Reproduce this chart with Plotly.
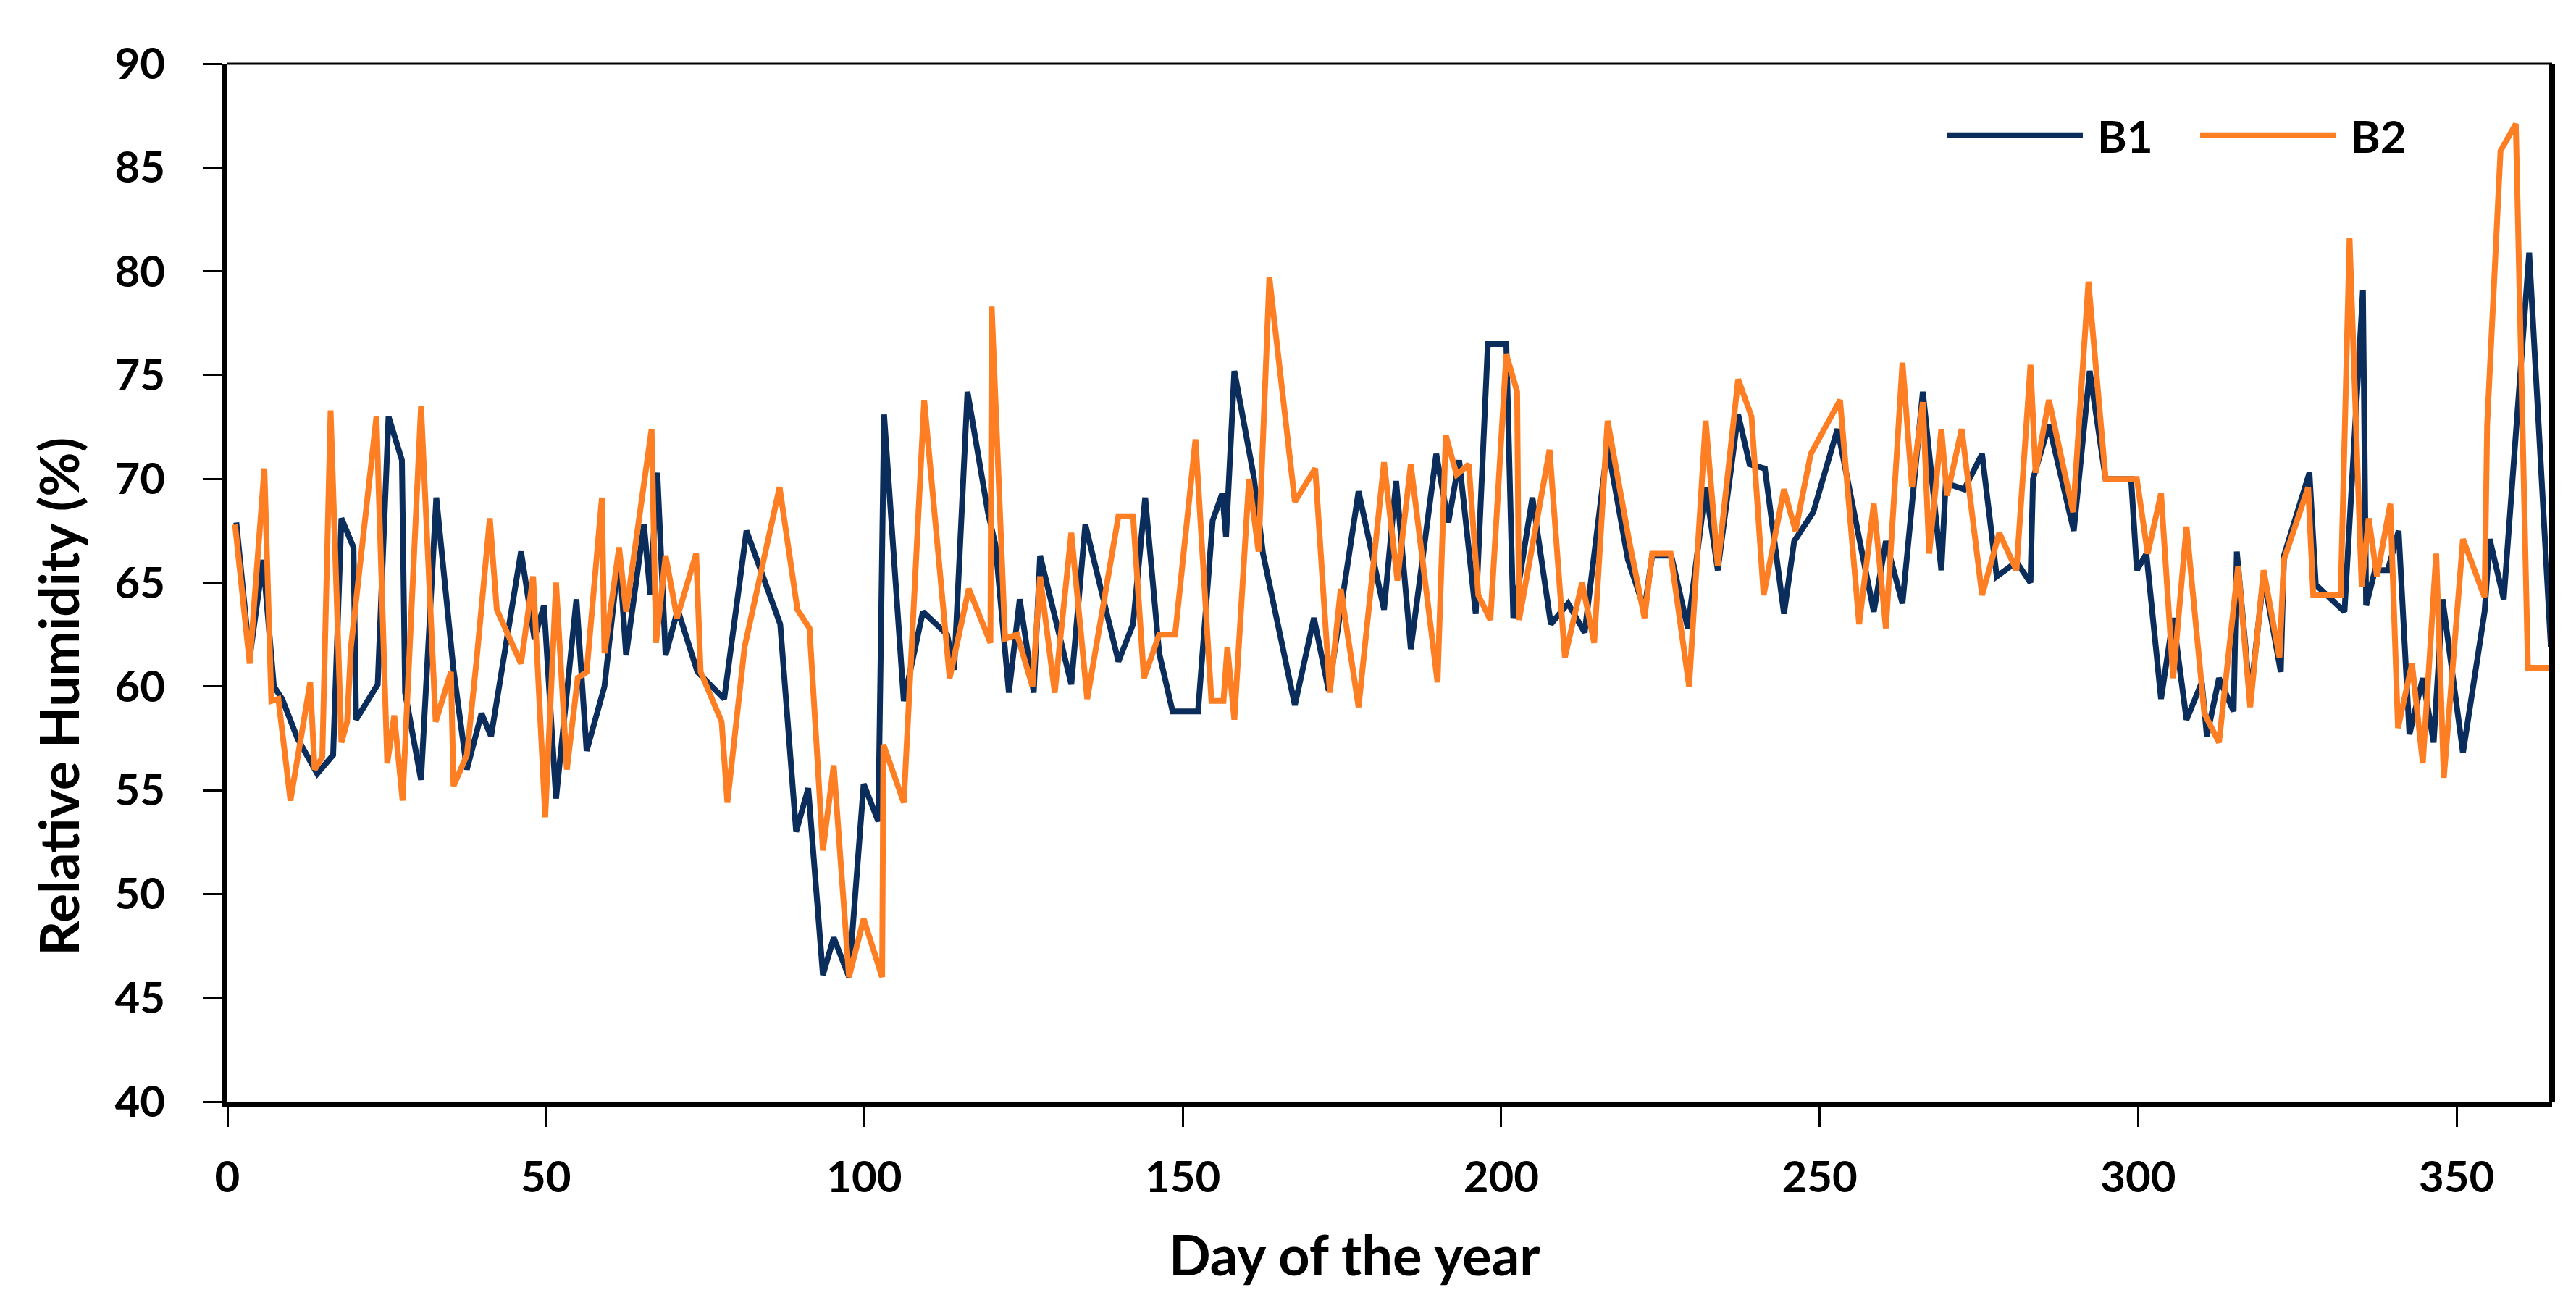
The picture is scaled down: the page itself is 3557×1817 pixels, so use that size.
import plotly.graph_objects as go

# ---------------- data ----------------
b1_day = [1.4, 3.5, 5.6, 7.3, 8.6, 11.0, 14.1, 16.6, 17.9, 19.8, 20.2, 23.6, 25.3, 27.4, 27.9, 30.4,
          32.8, 35.5, 37.6, 39.9, 41.4, 46.1, 48.2, 49.7, 51.6, 54.8, 56.4, 59.2, 61.5, 62.6, 65.4,
          66.4, 67.5, 68.8, 70.7, 73.8, 78.0, 81.5, 86.8, 89.3, 91.2, 93.5, 95.2, 97.6, 99.9, 102.2,
          103.1, 106.2, 109.2, 113.0, 114.1, 116.2, 119.4, 120.6, 122.7, 124.4, 126.6, 127.6, 132.5,
          134.7, 139.9, 142.2, 144.1, 146.3, 148.4, 152.4, 154.7, 156.2, 156.8, 158.1, 161.1, 162.6,
          167.6, 170.6, 172.9, 177.6, 181.6, 183.5, 185.8, 189.8, 191.7, 193.4, 196.0, 197.9, 200.8,
          201.9, 204.9, 207.8, 210.5, 213.1, 216.7, 219.9, 222.5, 223.7, 226.7, 229.3, 232.1, 234.0,
          237.2, 239.0, 241.4, 244.4, 246.0, 249.0, 252.8, 256.6, 258.5, 260.4, 263.0, 266.2, 269.1,
          269.8, 272.7, 275.5, 277.8, 280.9, 283.1, 283.5, 286.0, 289.9, 292.4, 294.9, 298.9, 299.8,
          301.3, 303.6, 305.5, 307.6, 310.0, 310.8, 312.7, 315.0, 315.5, 317.6, 319.7, 322.4, 322.9,
          326.9, 327.9, 332.4, 335.3, 335.8, 337.2, 339.2, 340.9, 342.6, 344.7, 346.4, 347.8, 351.0,
          354.4, 355.2, 357.4, 361.4, 364.8]
b1_rh = [67.9, 61.4, 66.1, 60.0, 59.4, 57.5, 55.8, 56.7, 68.1, 66.7, 58.4, 60.1, 73.0, 70.9, 59.7, 55.5,
         69.1, 60.8, 56.0, 58.7, 57.6, 66.5, 62.3, 63.9, 54.6, 64.2, 56.9, 60.0, 66.4, 61.5, 67.8,
         64.4, 70.3, 61.5, 63.7, 60.7, 59.4, 67.5, 63.0, 53.0, 55.1, 46.1, 47.9, 46.0, 55.3, 53.5,
         73.1, 59.3, 63.6, 62.5, 60.8, 74.2, 68.4, 66.8, 59.7, 64.2, 59.7, 66.3, 60.1,
         67.8, 61.2, 63.0, 69.1, 61.6, 58.8, 58.8, 68.0, 69.3, 67.2, 75.2, 70.2, 66.4,
         59.1, 63.3, 59.8, 69.4, 63.7, 69.9, 61.8, 71.2, 67.9, 70.9, 63.5, 76.5, 76.5,
         63.3, 69.1, 63.0, 64.0, 62.6, 71.6, 66.1, 63.7, 66.3, 66.3, 62.8, 69.6, 65.6,
         73.1, 70.7, 70.5, 63.5, 67.0, 68.4, 72.4, 66.4, 63.6, 67.0, 64.0, 74.2, 65.6,
         69.8, 69.5, 71.2, 65.3, 66.0, 65.0, 70.0, 72.6, 67.5, 75.2, 70.0, 70.0, 65.6,
         66.4, 59.4, 63.3, 58.4, 60.2, 57.6, 60.4, 58.8, 66.5, 59.4, 65.3, 60.7, 66.3,
         70.3, 64.9, 63.6, 79.1, 63.9, 65.6, 65.6, 67.5, 57.7, 60.4, 57.3, 64.2, 56.8,
         63.6, 67.1, 64.2, 80.9, 61.9]

b2_day = [1.2, 3.5, 5.8, 6.9, 8.0, 9.9, 13.0, 13.7, 14.9, 16.2, 17.9, 18.8, 19.4, 23.4, 25.1, 26.2,
          27.5, 30.4, 32.7, 35.1, 35.5, 37.6, 39.1, 41.2, 42.3, 46.1, 48.0, 49.9, 51.6, 53.3, 55.0,
          56.4, 58.8, 59.2, 61.5, 62.6, 66.6, 67.3, 68.8, 70.6, 73.6, 74.3, 77.6, 78.5, 81.2, 86.7,
          89.5, 91.4, 93.5, 95.2, 97.6, 99.9, 102.8, 103.0, 106.2, 109.4, 113.4, 116.4, 119.8, 120.0,
          122.1, 124.0, 126.4, 127.6, 129.9, 132.5, 135.0, 139.9, 142.2, 143.9, 146.3, 148.8, 152.0,
          154.5, 156.4, 157.0, 158.1, 160.4, 161.9, 163.6, 167.6, 170.8, 173.1, 174.8, 177.6, 181.6,
          183.7, 185.8, 190.0, 191.3, 193.0, 194.9, 196.4, 198.3, 200.8, 202.5, 202.8, 207.6, 210.0,
          212.7, 214.6, 216.7, 220.1, 222.5, 223.7, 226.6, 229.5, 232.1, 234.0, 237.2, 239.3, 241.2,
          244.4, 246.2, 248.6, 253.2, 256.2, 258.5, 260.4, 263.0, 264.5, 266.2, 267.2, 269.1, 270.0,
          272.3, 275.5, 278.2, 280.9, 283.1, 283.9, 286.0, 289.8, 292.2, 294.9, 299.8, 301.5, 303.6,
          305.5, 307.6, 310.4, 312.7, 315.7, 317.6, 319.7, 322.2, 322.9, 326.7, 327.5, 331.8, 333.2,
          335.1, 336.2, 337.5, 339.6, 340.8, 343.0, 344.7, 346.8, 348.0, 351.0, 354.4, 354.8, 356.9,
          359.3, 361.2, 365.0]
b2_rh = [67.8, 61.1, 70.5, 59.3, 59.4, 54.5, 60.2, 56.0, 56.6, 73.3, 57.3, 58.3, 61.9, 73.0, 56.3, 58.6,
         54.5, 73.5, 58.3, 60.7, 55.2, 56.7, 61.2, 68.1, 63.7, 61.1, 65.3, 53.7, 65.0, 56.0, 60.4,
         60.7, 69.1, 61.6, 66.7, 63.6, 72.4, 62.1, 66.3, 63.3, 66.4, 60.7, 58.3, 54.4, 61.9, 69.6,
         63.7, 62.8, 52.1, 56.2, 46.0, 48.8, 46.0, 57.2, 54.4, 73.8, 60.4, 64.7, 62.1, 78.3,
         62.3, 62.5, 60.0, 65.3, 59.7, 67.4, 59.4, 68.2, 68.2, 60.4, 62.5, 62.5, 71.9,
         59.3, 59.3, 61.9, 58.4, 70.0, 66.5, 79.7, 68.9, 70.5, 59.7, 64.7, 59.0, 70.8,
         65.1, 70.7, 60.2, 72.1, 70.2, 70.7, 64.4, 63.2, 76.0, 74.2, 63.2, 71.4, 61.4,
         65.0, 62.1, 72.8, 67.0, 63.3, 66.4, 66.4, 60.0, 72.8, 65.8, 74.8, 73.0, 64.4,
         69.5, 67.5, 71.2, 73.8, 63.0, 68.8, 62.8, 75.6, 69.6, 73.7, 66.4, 72.4, 69.2,
         72.4, 64.4, 67.4, 65.6, 75.5, 70.3, 73.8, 68.4, 79.5, 70.0, 70.0, 66.4, 69.3,
         60.4, 67.7, 58.7, 57.3, 65.8, 59.0, 65.6, 61.4, 66.1, 69.6, 64.4, 64.4, 81.6,
         64.8, 68.1, 65.3, 68.8, 58.0, 61.1, 56.3, 66.4, 55.6, 67.1, 64.3, 72.6, 85.8,
         87.1, 60.9, 60.9]

x_ticks = [0, 50, 100, 150, 200, 250, 300, 350]
y_ticks = [40, 45, 50, 55, 60, 65, 70, 75, 80, 85, 90]

series_names = ["B1", "B2"]
x_title = "Day of the year"
y_title = "Relative Humidity (%)"

# ---------------- style ----------------
NAVY = "#0B2D5B"
ORANGE = "#FD7E23"
FONT = "Lato"
NB = "\u00a0"

fig = go.Figure()
fig.add_trace(go.Scatter(x=b1_day, y=b1_rh, mode="lines", name=NB + series_names[0],
                         line=dict(color=NAVY, width=8)))
fig.add_trace(go.Scatter(x=b2_day, y=b2_rh, mode="lines", name=NB + series_names[1],
                         line=dict(color=ORANGE, width=8)))

tick_font = dict(family=FONT, size=60, color="black", weight="bold")

fig.update_layout(
    width=3557, height=1817,
    margin=dict(l=306, r=41, t=80, b=304),
    paper_bgcolor="white", plot_bgcolor="white",
    showlegend=True,
    legend=dict(orientation="h", x=0.738, y=0.931, xanchor="left", yanchor="middle",
                font=dict(family=FONT, size=62, color="black", weight="bold"),
                itemwidth=188, entrywidth=147, entrywidthmode="pixels",
                bgcolor="rgba(0,0,0,0)", traceorder="normal"),
    xaxis=dict(range=[0, 365], tickvals=x_ticks, ticks="outside", ticklen=27, tickwidth=3,
               tickcolor="black", showline=True, linewidth=8, linecolor="black",
               showgrid=False, zeroline=False, tickfont=tick_font, ticklabelstandoff=18),
    yaxis=dict(range=[40, 90], tickvals=y_ticks, ticks="outside", ticklen=27, tickwidth=3,
               tickcolor="black", showline=True, linewidth=7, linecolor="black",
               showgrid=False, zeroline=False, tickfont=tick_font, ticklabelstandoff=40),
    shapes=[
        dict(type="line", xref="paper", yref="paper", x0=0, x1=1, y0=1, y1=1,
             line=dict(color="black", width=3)),
        dict(type="line", xref="paper", yref="paper", x0=1, x1=1, y0=0, y1=1,
             line=dict(color="black", width=8)),
    ],
    annotations=[
        dict(text=x_title, xref="paper", yref="paper", x=0.485, y=-0.147,
             xanchor="center", yanchor="middle", showarrow=False,
             font=dict(family=FONT, size=76, color="black", weight="bold")),
        dict(text=y_title, xref="paper", yref="paper", x=-0.073, y=0.39,
             xanchor="center", yanchor="middle", showarrow=False, textangle=-90,
             font=dict(family=FONT, size=75, color="black", weight="bold")),
    ],
)

fig.write_html("out.html")
